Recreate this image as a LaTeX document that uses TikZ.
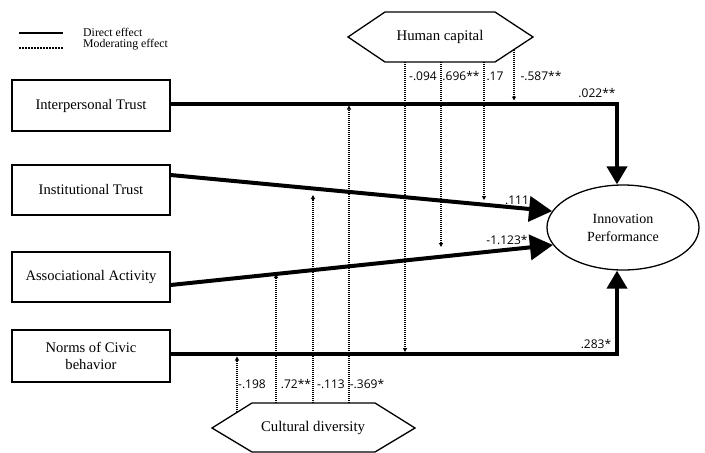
\documentclass[tikz,border=0pt]{standalone}
\usepackage{fontspec}
\setmainfont{Liberation Serif}
\newfontfamily\labfont{Open Sans}
\usetikzlibrary{arrows.meta,shapes.geometric}
\begin{document}
\begin{tikzpicture}[x=1pt,y=-1pt,
  varbox/.style={draw, line width=1.3pt, minimum width=158pt, minimum height=50pt, inner sep=2pt, font=\fontsize{14.6}{16.5}\selectfont, align=center},
  hexline/.style={draw, line width=1.3pt, line join=miter},
  directv/.style={line width=4pt, -{Triangle[length=18pt,width=20pt]}},
  directd/.style={line width=4pt, -{Triangle[length=23pt,width=25pt]}},
  modline/.style={line width=1.1pt, dash pattern=on 1pt off 1pt, -{Triangle[length=4pt,width=4pt]}},
  lab/.style={font=\labfont\fontsize{12}{14}\selectfont, inner sep=0pt},
  legtext/.style={font=\fontsize{11.8}{13}\selectfont, inner sep=0pt, anchor=west}
]
\useasboundingbox (0,0) rectangle (705,453);

% legend
\coordinate (la1) at (19,33); \coordinate (la2) at (63,33);
\coordinate (lb1) at (19,48); \coordinate (lb2) at (63,48);
\draw[line width=2pt] (la1) -- (la2);
\draw[line width=2pt, dash pattern=on 1.5pt off 1.5pt] (lb1) -- (lb2);
\node[legtext] (ld) at (83,32) {Direct effect};
\node[legtext] (lm) at (83,45) {Moderating effect};

% boxes
\node[varbox, minimum height=51pt] (inter) at (91,105.5) {Interpersonal Trust};
\node[varbox] (inst) at (91,190) {Institutional Trust};
\node[varbox] (assoc) at (91,277) {Associational Activity};
\node[varbox, minimum height=52pt] (norms) at (91,356) {Norms of Civic\\behavior};

% outcome
\node[draw, ellipse, line width=1.3pt, minimum width=152pt, minimum height=85pt, inner sep=0pt,
      font=\fontsize{14}{18}\selectfont, align=center] (perf) at (623,227.5) {Innovation\\Performance};

% moderators
\node[font=\fontsize{14.8}{16}\selectfont, inner sep=0pt] (hc) at (440,37) {Human capital};
\draw[hexline] (348,37) -- (385,12) -- (495,12) -- (533,37) -- (495,62) -- (385,62) -- cycle;
\node[font=\fontsize{14.8}{16}\selectfont, inner sep=0pt] (cd) at (313,428) {Cultural diversity};
\draw[hexline] (212,428) -- (252,403) -- (375,403) -- (415,428) -- (375,452) -- (252,452) -- cycle;

% moderating lines from human capital
\coordinate (h1s) at (405,62);   \coordinate (h1e) at (405,352);
\coordinate (h2s) at (441,62);   \coordinate (h2e) at (441,247);
\coordinate (h3s) at (484,62);   \coordinate (h3e) at (484,200);
\coordinate (h4s) at (514,49.5); \coordinate (h4e) at (514,100.5);
\draw[modline] (h1s) -- (h1e);
\draw[modline] (h2s) -- (h2e);
\draw[modline] (h3s) -- (h3e);
\draw[modline] (h4s) -- (h4e);
\node[lab] at (423,76) {-.094};
\node[lab] at (461,76) {.696**};
\node[lab] at (495,76) {.17};
\node[lab] at (541,76) {-.587**};

% moderating lines from cultural diversity
\coordinate (c1s) at (237,412.4); \coordinate (c1e) at (237,356.5);
\coordinate (c2s) at (276,403);   \coordinate (c2e) at (276,274);
\coordinate (c3s) at (313,403);   \coordinate (c3e) at (313,195);
\coordinate (c4s) at (349,403);   \coordinate (c4e) at (349,105.5);
\draw[modline] (c1s) -- (c1e);
\draw[modline] (c2s) -- (c2e);
\draw[modline] (c3s) -- (c3e);
\draw[modline] (c4s) -- (c4e);
\node[lab] at (252,384) {-.198};
\node[lab] at (296,384) {.72**};
\node[lab] at (331,384) {-.113};
\node[lab] at (367,384) {-.369*};

% direct effects
\coordinate (k1) at (617,103.5);
\coordinate (k2) at (617,353.5);
\draw[directv, line join=miter] (inter.east |- k1) -- (k1) -- (k1 |- perf.north);
\draw[directd] ([yshift=15pt]inst.east) -- (perf.167.5);
\draw[directd] ([yshift=-8pt]assoc.east) -- (perf.194.2);
\draw[directv, line join=miter] (norms.east |- k2) -- (k2) -- (k2 |- perf.south);

\node[lab] at (597,93) {.022**};
\node[lab] at (517,200) {.111};
\node[lab] at (507,240) {-1.123*};
\node[lab] at (596,344) {.283*};
\end{tikzpicture}
\end{document}
